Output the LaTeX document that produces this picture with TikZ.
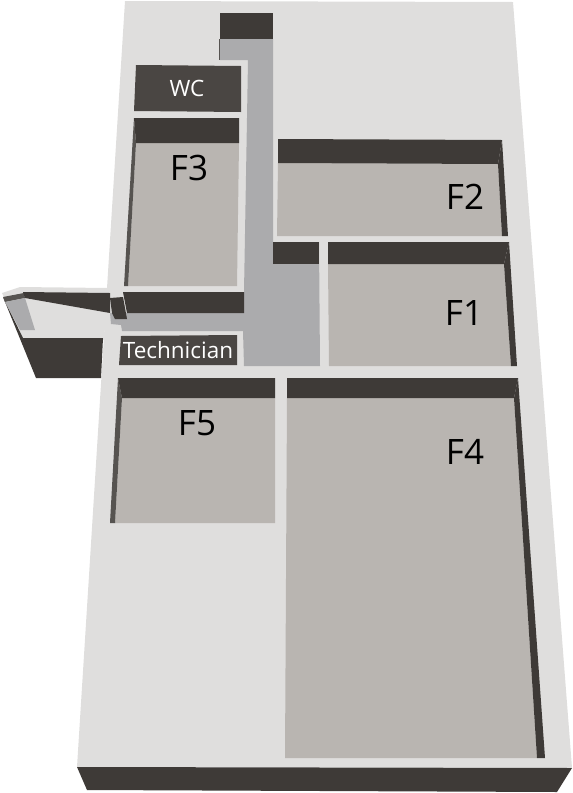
\documentclass[tikz,border=0pt]{standalone}
\usepackage{fontspec}
\setmainfont{Open Sans}
\usepackage{tikz}
\definecolor{slabcol}{HTML}{DFDEDD}
\definecolor{floorcol}{HTML}{B9B5B1}
\definecolor{hallcol}{HTML}{ABABAD}
\definecolor{wallcol}{HTML}{3E3A37}
\definecolor{sidecol}{HTML}{565350}
\definecolor{signcol}{HTML}{4A4643}
\tikzset{
	slab/.style={fill=slabcol},
	roomfloor/.style={fill=floorcol},
	hall/.style={fill=hallcol},
	wall/.style={fill=wallcol},
	sidewall/.style={fill=sidecol},
	sign/.style={fill=signcol},
	bigname/.style={font=\fontsize{35}{35}\selectfont, text=black, inner sep=0pt},
	smallname/.style={font=\fontsize{22.5}{22.5}\selectfont, text=white, inner sep=0pt},
}
\begin{document}
\begin{tikzpicture}[x=1pt,y=-1pt]
		\useasboundingbox (0,0) rectangle (573,793);
		
		% slab and annex
		\fill[slab] (125,1) -- (513,2) -- (572,768) -- (77,767) -- cycle;
		\fill[wall] (77,767) -- (572,768) -- (557,792) -- (87,790) -- cycle;
		\fill[slab] (2,293) -- (20,287) -- (108,288) -- (104,340) -- (23,338) -- cycle;
		\fill[wall] (3,297) -- (23,338) -- (103,338) -- (101,378) -- (36,378) -- cycle;
		\fill[sidewall] (3,297) -- (24,293) -- (25,298) -- (5,302) -- cycle;
		\fill[hall] (5,302) -- (25,298) -- (35,330) -- (20,330) -- cycle;
		\fill[wall] (23,292) -- (110,293) -- (110,313) -- (25,298) -- cycle;
		
		% corridor
		\fill[hall] (220,39) -- (273,39) -- (273,242) -- (319,242) -- (320,366) -- (244,366) -- (243,331) -- (122,331) -- (121,325) -- (111,324) -- (110,313) -- (244,313) -- (244,292) -- (248,60) -- (220,60) -- cycle;
		\fill[sidewall] (219,39) -- (220,39) -- (220,60) -- (219,60) -- cycle;
		\fill[wall] (220,13) -- (273,13) -- (273,39) -- (220,39) -- cycle;
		\fill[wall] (273,242) -- (319,242) -- (319,264) -- (273,264) -- cycle;
		\fill[wall] (123,292) -- (244,292) -- (244,313) -- (127,313) -- cycle;
		\fill[wall] (110,298) -- (123,297) -- (127,319) -- (115,319) -- (112,313) -- cycle;
		
		% F3
		\fill[roomfloor] (136,143) -- (239,143) -- (237,286) -- (128,286) -- cycle;
		\fill[sidewall] (134,118) -- (136,143) -- (128,286) -- (124,286) -- cycle;
		\fill[wall] (134,118) -- (239,118) -- (239,143) -- (136,143) -- cycle;
		
		% F2
		\fill[roomfloor] (278,163) -- (498,164) -- (502,236) -- (277,236) -- cycle;
		\fill[wall] (502,140) -- (508,236) -- (502,236) -- (498,164) -- cycle;
		\fill[wall] (278,139) -- (502,140) -- (498,164) -- (278,163) -- cycle;
		
		% F1
		\fill[roomfloor] (328,264) -- (504,264) -- (511,366) -- (329,366) -- cycle;
		\fill[wall] (509,242) -- (517,366) -- (511,366) -- (504,264) -- cycle;
		\fill[wall] (328,242) -- (509,242) -- (504,264) -- (328,264) -- cycle;
		
		% F4
		\fill[roomfloor] (287,398) -- (514,398) -- (537,758) -- (285,758) -- cycle;
		\fill[wall] (518,378) -- (545,758) -- (537,758) -- (514,398) -- cycle;
		\fill[wall] (287,378) -- (518,378) -- (514,398) -- (287,398) -- cycle;
		
		% F5
		\fill[roomfloor] (122,398) -- (275,398) -- (275,523) -- (115,523) -- cycle;
		\fill[sidewall] (118,378) -- (122,398) -- (115,523) -- (110,523) -- cycle;
		\fill[wall] (118,378) -- (275,378) -- (275,398) -- (122,398) -- cycle;
		
		% signs
		\fill[sign] (136,65) -- (241,66) -- (241,112) -- (134,111) -- cycle;
		\fill[sign] (121,336) -- (237,335) -- (237,365) -- (119,365) -- cycle;
		
		\node (labelwc) [smallname] at (187,88) {WC};
		\node (labeltech) [smallname] at (178,350) {Technician};
		\node (labelfthree) [bigname] at (189,168) {F3};
		\node (labelftwo) [bigname] at (465,197) {F2};
		\node (labelfone) [bigname] at (464,313) {F1};
		\node (labelffour) [bigname] at (465,452) {F4};
		\node (labelffive) [bigname] at (197,423) {F5};
		
		\end{tikzpicture}
\end{document}
